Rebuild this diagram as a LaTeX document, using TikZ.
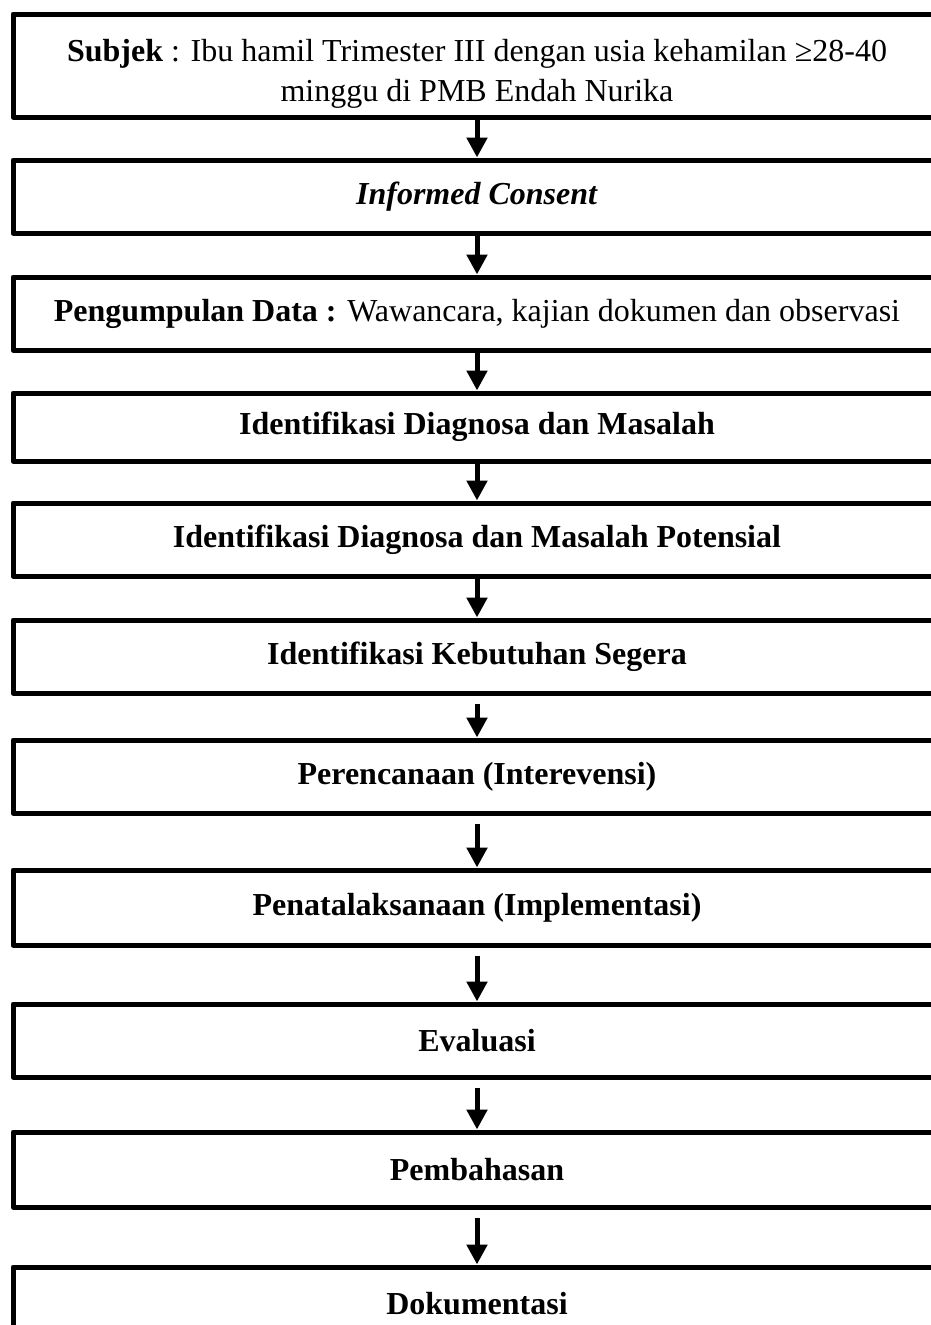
\documentclass[tikz,border=0pt]{standalone}
\usepackage{fontspec}
\setmainfont{Liberation Serif}
\usepackage{tikz}
\usetikzlibrary{arrows.meta}
\tikzset{
    every node/.style={rectangle, draw, line width=3.75pt, line join=round,
    	minimum width=696pt, minimum height=54.75pt, inner sep=0pt,
    	align=center, font=\fontsize{24}{30}\selectfont\bfseries}
}
\tikzset{
    every edge/.append style={line width=3.75pt, -{Triangle[width=15pt,length=15pt]}}
}

\begin{document}
\begin{tikzpicture}[x=0.75pt, y=-0.75pt]
  \useasboundingbox (0,0) rectangle (931,1325);
  \clip (0,0) rectangle (931,1325);
  \node (1) [minimum height=77.25pt] at (477, 65.5) {\rule{0pt}{29pt}\textbf{Subjek} \mdseries: Ibu hamil Trimester III dengan usia kehamilan ≥28-40\\\mdseries minggu di PMB Endah Nurika};
  \node (2) at (477, 196.5) {\textit{Informed Consent}};
  \node (3) at (477, 313.5) {Pengumpulan Data : \mdseries Wawancara, kajian dokumen dan observasi};
  \node (4) [minimum height=51pt] at (477, 427) {Identifikasi Diagnosa dan Masalah};
  \node (5) at (477, 539.5) {Identifikasi Diagnosa dan Masalah Potensial};
  \node (6) at (477, 656.5) {Identifikasi Kebutuhan Segera};
  \node (7) at (477, 776.5) {Perencanaan (Interevensi)};
  \node (8) [minimum height=56.25pt] at (477, 907.5) {Penatalaksanaan (Implementasi)};
  \node (9) at (477, 1040.5) {Evaluasi};
  \node (10) [minimum height=56.25pt] at (477, 1169.5) {Pembahasan};
  \node (11) at (477, 1303.5) {Dokumentasi};

  \draw (1) edge (2); \draw (2) edge (3); \draw (3) edge (4);
  \draw (4) edge (5); \draw (5) edge (6);
  \draw (6) edge[shorten <=6pt] (7); \draw (7) edge[shorten <=6pt] (8);
  \draw (8) edge[shorten <=6pt] (9); \draw (9) edge[shorten <=6pt] (10);
  \draw (10) edge[shorten <=6pt] (11);
\end{tikzpicture}
\end{document}
